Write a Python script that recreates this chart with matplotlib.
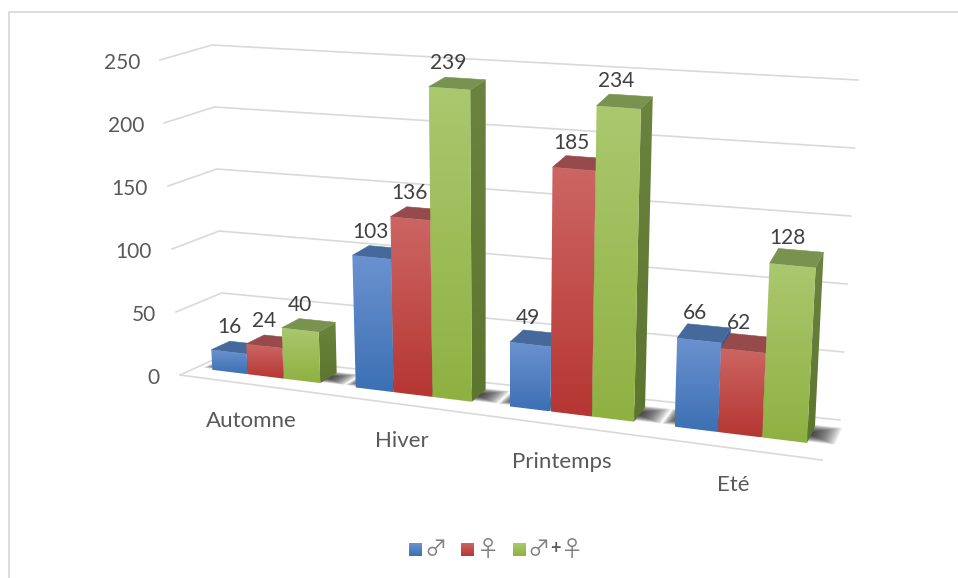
import numpy as np
import matplotlib
matplotlib.use("Agg")
import matplotlib.pyplot as plt
from matplotlib.patches import Polygon
from matplotlib.colors import to_rgb

seasons = ["Automne", "Hiver", "Printemps", "Eté"]
males = [16, 103, 49, 66]
females = [24, 136, 185, 62]
both = [40, 239, 234, 128]
y_ticks = [0, 50, 100, 150, 200, 250]
legend_marks = ["♂", "♀", "♂", "+", "♀"]

# front lit top/bottom, top face, side face top/bottom
BLUE = ("#6b92cf", "#3c70b4", "#46699b", "#3a5d8f", "#2f4f7c")
RED = ("#cc6663", "#b63633", "#964a4b", "#8a3a38", "#7a2b28")
GREEN = ("#aac86e", "#8fb142", "#78934f", "#6a843f", "#5c7630")

W, H = 958, 578
VMAX = 250.0
BAR_D0, BAR_D1 = 0.36, 0.78
CLUSTER_W = 0.19

plt.rcParams["font.family"] = ["Lato", "DejaVu Sans"]

# corners of the plot box in figure pixels: (u, depth, value)
C000 = np.array([180, 375.0])
C100 = np.array([822, 460.0])
C010 = np.array([224, 355.0])
C110 = np.array([840, 420.0])
C001 = np.array([160, 60.0])
C101 = np.array([840, 115.0])
C011 = np.array([212, 45.0])
C111 = np.array([858, 80.0])


def project(u, d, v):
    w = v / VMAX
    bottom = (C000 * (1 - u) + C100 * u) * (1 - d) + (C010 * (1 - u) + C110 * u) * d
    top = (C001 * (1 - u) + C101 * u) * (1 - d) + (C011 * (1 - u) + C111 * u) * d
    return bottom * (1 - w) + top * w


def warp(t):
    # foreshortening along the category axis, right side is closer
    return t - 0.135 * t * (1 - t)


def gradient_poly(ax, pts, c_top, c_bot, zorder):
    # vertical two colour gradient clipped to a polygon
    pts = np.array(pts)
    x0, y0 = pts.min(axis=0)
    x1, y1 = pts.max(axis=0)
    ramp = np.linspace(0, 1, 64)[:, None, None]
    img = np.array(to_rgb(c_top))[None, None, :] * (1 - ramp) + np.array(to_rgb(c_bot))[None, None, :] * ramp
    im = ax.imshow(img, extent=(x0, x1, y1, y0), aspect="auto", zorder=zorder, interpolation="bilinear")
    patch = Polygon(pts, closed=True, transform=ax.transData, fc="none", ec="none")
    ax.add_patch(patch)
    im.set_clip_path(patch)


def draw_bar(ax, t0, t1, value, colors, zorder):
    u0, u1 = warp(t0), warp(t1)
    d0, d1 = BAR_D0, BAR_D1
    front = [project(u0, d0, value), project(u1, d0, value), project(u1, d0, 0), project(u0, d0, 0)]
    side = [project(u1, d0, value), project(u1, d1, value), project(u1, d1, 0), project(u1, d0, 0)]
    top = [project(u0, d0, value), project(u1, d0, value), project(u1, d1, value), project(u0, d1, value)]
    gradient_poly(ax, side, colors[3], colors[4], zorder)
    ax.add_patch(Polygon(top, closed=True, fc=colors[2], ec=colors[2], lw=0.4, zorder=zorder))
    gradient_poly(ax, front, colors[0], colors[1], zorder + 0.1)


def draw_shadow(ax, t0, t1, zorder):
    # soft floor shadow, stacked translucent quads growing out from the cluster
    steps = 20
    for k in range(steps):
        f = k / (steps - 1)
        u0 = warp(t0 - 0.002 - 0.018 * f)
        u1 = warp(t1 + 0.002 + 0.036 * f)
        d0 = BAR_D0 + 0.20 - 0.16 * f
        d1 = BAR_D1 - 0.14 + 0.18 * f
        quad = [project(u0, d0, 0), project(u1, d0, 0), project(u1, d1, 0), project(u0, d1, 0)]
        ax.add_patch(Polygon(quad, closed=True, fc="#222222", ec="none", alpha=0.075, zorder=zorder))


fig = plt.figure(figsize=(W / 100, H / 100), dpi=100)
ax = fig.add_axes([0, 0, 1, 1])

# chart frame
ax.plot([9, 9, W], [H, 11.5, 11.5], color="#d9d9d9", lw=1.3, zorder=1)

# gridlines on the side and back walls, floor front edge
GRID = "#d9d9d9"
for v in y_ticks:
    pts = np.array([project(0, 0, v), project(0, 1, v), project(1, 1, v)])
    ax.plot(pts[:, 0], pts[:, 1], color=GRID, lw=1.2, zorder=1, solid_joinstyle="round")
    fx, fy = project(0, 0, v)
    ax.text(fx - 20, fy + 3, str(v), ha="right", va="center", fontsize=15, color="#595959", zorder=6)
edge = np.array([project(0, 0, 0), project(1, 0, 0)])
ax.plot(edge[:, 0], edge[:, 1], color=GRID, lw=1.2, zorder=1)

series = [(males, BLUE), (females, RED), (both, GREEN)]
n_cat = len(seasons)
bar_w = CLUSTER_W / len(series)

for i, name in enumerate(seasons):
    left = (i + 0.5) / n_cat - CLUSTER_W / 2
    draw_shadow(ax, left, left + CLUSTER_W, 2)
    for j, (vals, colors) in enumerate(series):
        t0 = left + j * bar_w
        t1 = t0 + bar_w
        draw_bar(ax, t0, t1, vals[i], colors, 3 + j * 0.2 + i)
        # value sits above the middle of the top face
        lx, ly = project(warp((t0 + t1) / 2), (BAR_D0 + BAR_D1) / 2, vals[i])
        ax.text(lx - 9, ly - 20, str(vals[i]), ha="center", va="center", fontsize=15, color="#404040", zorder=20)
    cx, cy = project(warp((i + 0.5) / n_cat), 0, 0)
    ax.text(cx + 1, cy + 37, name, ha="center", va="center", fontsize=16, color="#595959", zorder=6)

# legend along the bottom
swatch_x = [409, 461, 513]
for sx, colors in zip(swatch_x, (BLUE, RED, GREEN)):
    sw = [(sx, 543), (sx + 13, 543), (sx + 13, 556), (sx, 556)]
    gradient_poly(ax, sw, colors[0], colors[1], 6)

mark_x = [436, 488, 539, 555.5, 572]
for mx, mark in zip(mark_x, legend_marks):
    if mark == "+":
        ax.text(mx, 549, mark, ha="center", va="center", fontsize=13, fontweight="bold", color="#595959", zorder=6)
    else:
        ax.text(mx, 550, mark, ha="center", va="center", fontsize=16, color="#7f7f7f",
                family=["Noto Sans CJK JP", "DejaVu Sans"], zorder=6)

ax.set_xlim(0, W)
ax.set_ylim(H, 0)
ax.axis("off")
fig.savefig("out.png", dpi=100)
